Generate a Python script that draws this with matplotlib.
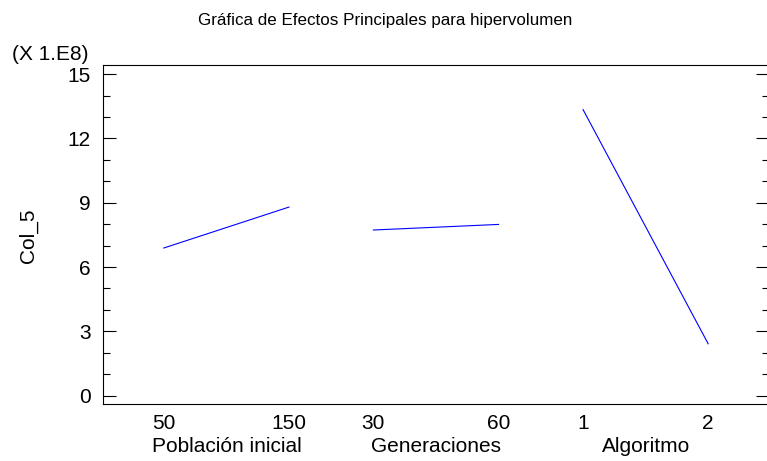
import numpy as np
import matplotlib
matplotlib.use("Agg")
import matplotlib.pyplot as plt
from matplotlib.ticker import MultipleLocator

plt.rcParams["font.family"] = ["Liberation Sans", "DejaVu Sans"]

# ---------------------------
# Data (means, units of 1e8)
# ---------------------------
factors = ["Población inicial", "Generaciones", "Algoritmo"]
level_labels = [["50", "150"], ["30", "60"], ["1", "2"]]
low_means = [6.89, 7.73, 13.35]
high_means = [8.80, 7.99, 2.42]

gap = 1.675  # spacing between factor blocks, in level units

fig = plt.figure(figsize=(7.67, 4.61), dpi=100)
ax = fig.add_axes([103 / 767, 57 / 461, 666 / 767, 339 / 461])

xticks, xlabels = [], []
for i, name in enumerate(factors):
    x0 = i * gap
    ax.plot([x0, x0 + 1], [low_means[i], high_means[i]], color="#0000ff", lw=0.8)
    xticks += [x0, x0 + 1]
    xlabels += level_labels[i]
    ax.text(x0 + 0.5, -0.125, name, transform=ax.get_xaxis_transform(),
            ha="center", va="center", fontsize=15)

ax.set_xlim(-0.486, 2 * gap + 1 + 0.486)
ax.set_ylim(-0.39, 15.43)
ax.set_xticks(xticks)
ax.set_xticklabels(xlabels, fontsize=15)
ax.set_yticks(np.arange(0, 16, 3))
ax.yaxis.set_minor_locator(MultipleLocator(1))
ax.tick_params(axis="x", length=0, pad=7)
ax.tick_params(axis="y", which="major", direction="in", length=9.4, width=0.8,
               right=True, labelsize=15, pad=9)
ax.tick_params(axis="y", which="minor", direction="in", length=5, width=0.8, right=True)
for s in ax.spines.values():
    s.set_linewidth(0.8)

ax.set_ylabel("Col_5", fontsize=15)
ax.yaxis.set_label_coords(-0.098, 0.496)

fig.text(12 / 767, 1 - 54 / 461, "(X 1.E8)", ha="left", va="center", fontsize=15)
fig.text(385 / 767, 1 - 21 / 461, "Gráfica de Efectos Principales para hipervolumen",
         ha="center", va="center", fontsize=12.25)

fig.savefig("out.png", dpi=100)
